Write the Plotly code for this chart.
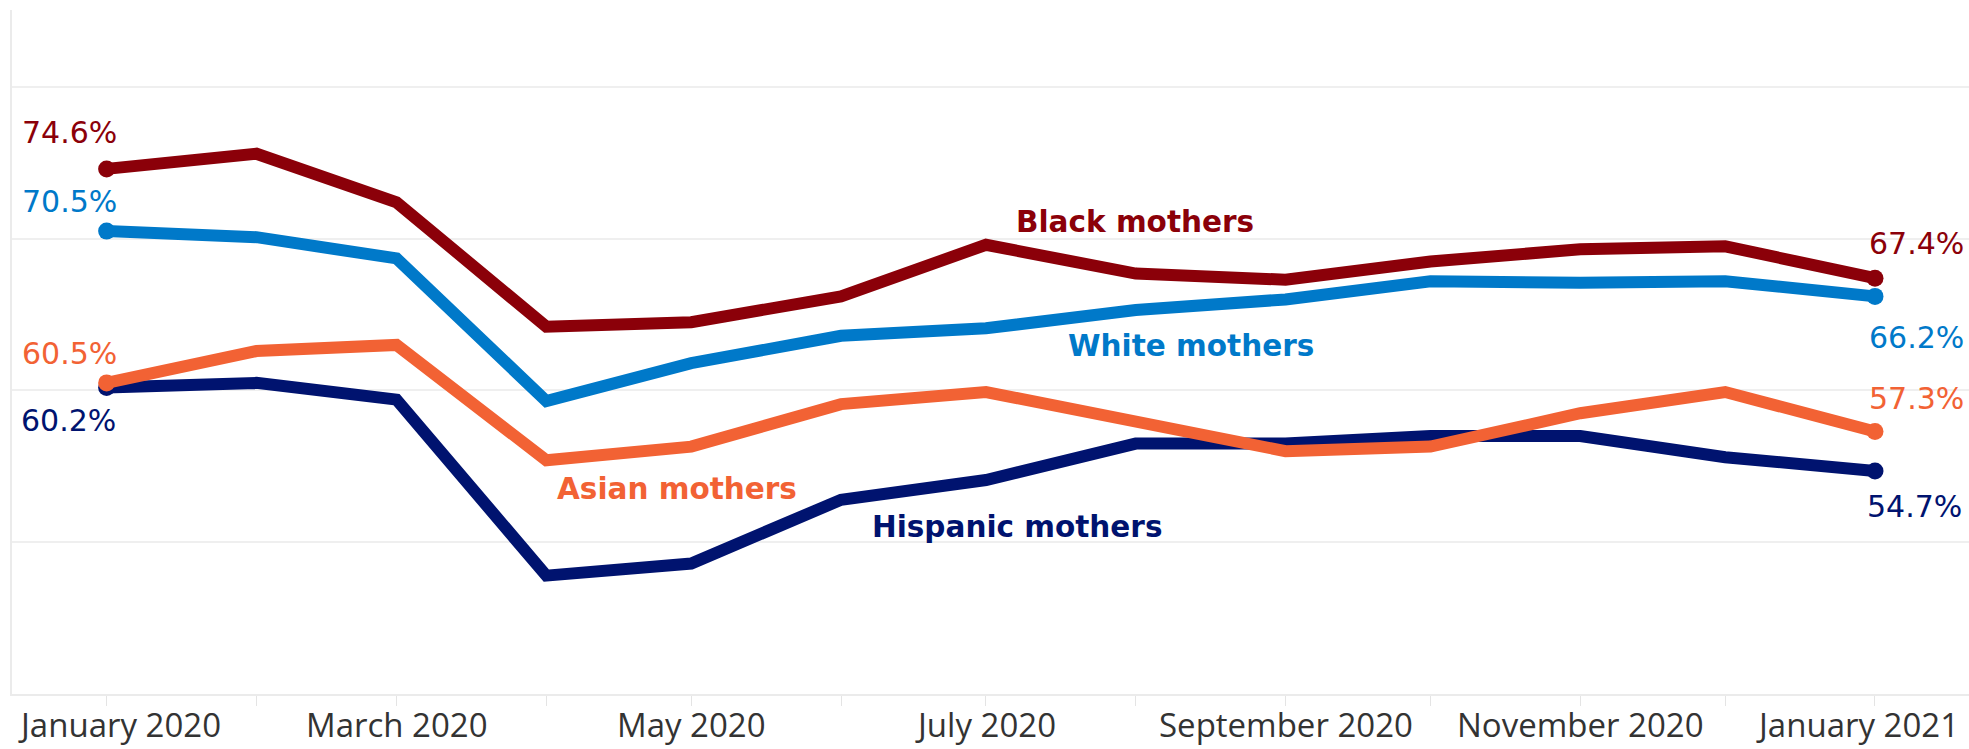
import plotly.graph_objects as go

# ---- data ----
months = ["2020-01-01", "2020-02-01", "2020-03-01", "2020-04-01", "2020-05-01",
          "2020-06-01", "2020-07-01", "2020-08-01", "2020-09-01", "2020-10-01",
          "2020-11-01", "2020-12-01", "2021-01-01"]

black_mothers = [74.6, 75.6, 72.4, 64.2, 64.5, 66.2, 69.6, 67.7, 67.3, 68.5, 69.3, 69.5, 67.4]
white_mothers = [70.5, 70.1, 68.7, 59.3, 61.8, 63.6, 64.1, 65.3, 66.0, 67.2, 67.1, 67.2, 66.2]
asian_mothers = [60.5, 62.6, 63.0, 55.4, 56.3, 59.1, 59.9, 57.9, 56.0, 56.3, 58.5, 59.9, 57.3]
hispanic_mothers = [60.2, 60.5, 59.4, 47.8, 48.6, 52.8, 54.1, 56.5, 56.5, 57.0, 57.0, 55.6, 54.7]

tick_labels = ["January 2020", "March 2020", "May 2020", "July 2020",
               "September 2020", "November 2020", "January 2021"]
tick_label_dates = months[::2]

series_names = ["Hispanic mothers", "Black mothers", "White mothers", "Asian mothers"]

# ---- style ----
COLORS = {
    "Black mothers": "#8B0009",
    "White mothers": "#0079C9",
    "Asian mothers": "#F26234",
    "Hispanic mothers": "#00136F",
}
VALUES = {
    "Black mothers": black_mothers,
    "White mothers": white_mothers,
    "Asian mothers": asian_mothers,
    "Hispanic mothers": hispanic_mothers,
}
# (xshift, yshift) of the start / end value labels, in px
START_SHIFT = {"Black mothers": (-37, 36), "White mothers": (-37, 30),
               "Asian mothers": (-37, 29), "Hispanic mothers": (-38, -33)}
END_SHIFT = {"Black mothers": (42, 35), "White mothers": (42, -41),
             "Asian mothers": (42, 33), "Hispanic mothers": (40, -36)}
# series name label anchors (data space)
NAME_POS = {"Black mothers": ("2020-07-31 20:00", 71.1),
            "White mothers": ("2020-08-12 12:00", 62.95),
            "Asian mothers": ("2020-04-28", 53.5),
            "Hispanic mothers": ("2020-07-07 12:00", 51.0)}

LINE_W = 12
MARKER = 17
PCT_FONT = dict(family="DejaVu Sans", size=30)
NAME_FONT = dict(family="DejaVu Sans", size=29.5)
TICK_FONT = dict(family="Open Sans", size=33, color="#333333")

fig = go.Figure()
n = len(months)
for name in series_names:
    vals = VALUES[name]
    col = COLORS[name]
    fig.add_trace(go.Scatter(
        x=months, y=vals, mode="lines+markers", name=name,
        line=dict(color=col, width=LINE_W),
        marker=dict(size=[MARKER if i in (0, n - 1) else 0 for i in range(n)],
                    color=col, opacity=1, line=dict(width=0)),
        hoverinfo="x+y+name",
    ))

annotations = []
for name in series_names:
    vals = VALUES[name]
    col = COLORS[name]
    for idx, shifts in ((0, START_SHIFT[name]), (n - 1, END_SHIFT[name])):
        annotations.append(dict(
            x=months[idx], y=vals[idx], xref="x", yref="y",
            text=f"{vals[idx]:.1f}%", showarrow=False,
            xanchor="center", yanchor="middle",
            xshift=shifts[0], yshift=shifts[1],
            font=dict(color=col, **PCT_FONT),
        ))
    px_, py_ = NAME_POS[name]
    annotations.append(dict(
        x=px_, y=py_, xref="x", yref="y", text=f"<b>{name}</b>",
        showarrow=False, xanchor="center", yanchor="middle",
        font=dict(color=col, **NAME_FONT),
    ))

for i, (d, lab) in enumerate(zip(tick_label_dates, tick_labels)):
    xs = 0
    if i == 0:
        xs = 13
    elif i == len(tick_labels) - 1:
        xs = -17
    annotations.append(dict(
        x=d, y=0, xref="x", yref="paper", text=lab, showarrow=False,
        xanchor="center", yanchor="bottom", yshift=-55, xshift=xs,
        font=TICK_FONT,
    ))

fig.update_layout(
    width=1969, height=749,
    margin=dict(l=12, r=0, t=10, b=55, autoexpand=False),
    plot_bgcolor="white", paper_bgcolor="white",
    showlegend=False,
    annotations=annotations,
    xaxis=dict(
        type="date",
        range=["2019-12-12 10:00", "2021-01-20 11:00"],
        tickvals=months, ticks="outside", ticklen=10, tickwidth=1,
        tickcolor="#E4E4E4", showticklabels=False, showgrid=False,
        showline=True, linecolor="#EBEBEB", linewidth=1.5, zeroline=False,
    ),
    yaxis=dict(
        range=[40, 85.07], tickvals=[50, 60, 70, 80],
        showgrid=True, gridcolor="#EFEFEF", gridwidth=1.5,
        showticklabels=False, ticks="", showline=True,
        linecolor="#EBEBEB", linewidth=1.5, zeroline=False,
    ),
)

fig.write_html("out.html")
